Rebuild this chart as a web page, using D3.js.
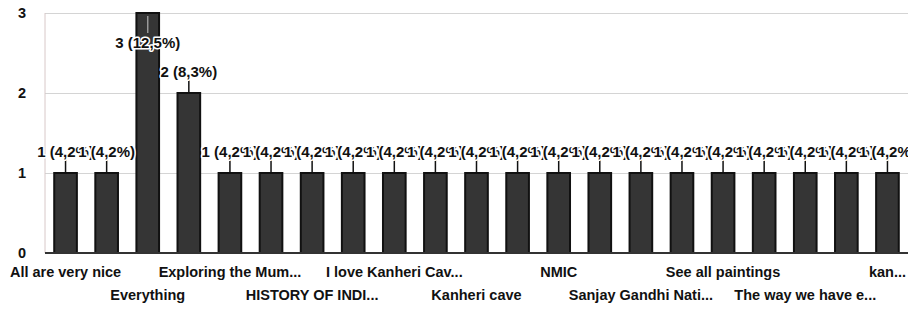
<!DOCTYPE html>
<html>
<head>
<meta charset="utf-8">
<script src="https://cdn.jsdelivr.net/npm/d3@7"></script>
<style>
  body { margin: 0; background: #fff; }
  text { font-family: "Liberation Sans", Arial, sans-serif; font-weight: bold; fill: #111; }
</style>
</head>
<body>
<script>
// answers, in the order the form lists them (hidden names are guesses)
var categories = [
  "All are very nice", "Art gallery", "Everything", "Exhibits",
  "Exploring the Mum...", "Gandhi gallery", "HISTORY OF INDI...", "History",
  "I love Kanheri Cav...", "Indian culture", "Kanheri cave", "Museum",
  "NMIC", "Nature", "Sanjay Gandhi Nati...", "Sculptures",
  "See all paintings", "The caves", "The way we have e...", "Wildlife",
  "kan..."
];
var counts = [1, 1, 3, 2, 1, 1, 1, 1, 1, 1, 1, 1, 1, 1, 1, 1, 1, 1, 1, 1, 1];
var y_ticks = [0, 1, 2, 3];

var width = 908, height = 310;
var plot_left = 45, plot_right = 908, plot_top = 13, plot_bottom = 253;
var total = d3.sum(counts);

var svg = d3.select("body").append("svg")
                           .attr("width", width)
                           .attr("height", height);

var x = d3.scaleBand()
          .domain(d3.range(categories.length))
          .range([plot_left, plot_right])
          .paddingInner(0.4)
          .paddingOuter(0.2);

var y = d3.scaleLinear().domain([0, 3]).range([plot_bottom, plot_top]);

// grid + y labels
var yAxis = svg.append("g")
               .attr("transform", "translate(" + plot_left + ",0)")
               .call(d3.axisLeft(y).tickValues(y_ticks).tickFormat(d3.format("d"))
                       .tickSize(-(plot_right - plot_left)).tickPadding(19));
yAxis.select(".domain").remove();
yAxis.selectAll(".tick line").attr("stroke", "#d4d4d4").attr("stroke-width", 1);
yAxis.selectAll(".tick text").style("font-size", "14.5px").attr("fill", "#111");

svg.append("line")
   .attr("x1", plot_left).attr("x2", plot_left)
   .attr("y1", plot_top).attr("y2", plot_bottom)
   .attr("stroke", "#d8c8c8");

// bars
svg.selectAll("rect.bar")
   .data(counts)
   .enter()
   .append("rect")
   .attr("class", "bar")
   .attr("x", function(d, i) { return x(i) + 1; })
   .attr("y", function(d) { return y(d); })
   .attr("width", x.bandwidth() - 2)
   .attr("height", function(d) { return plot_bottom - y(d); })
   .attr("fill", "#353535")
   .attr("stroke", "#111")
   .attr("stroke-width", 2);

// baseline
svg.append("line")
   .attr("x1", plot_left).attr("x2", plot_right)
   .attr("y1", plot_bottom).attr("y2", plot_bottom)
   .attr("stroke", "#333")
   .attr("stroke-width", 2);

// x labels, every other answer, on two staggered rows
var xAxis = svg.append("g")
               .attr("transform", "translate(0," + plot_bottom + ")")
               .call(d3.axisBottom(x).tickSize(0).tickFormat(function(i) { return categories[i]; }));
xAxis.select(".domain").remove();
xAxis.selectAll(".tick")
     .filter(function(i) { return i % 2 === 1; })
     .remove();
xAxis.selectAll(".tick text")
     .style("font-size", "14.5px")
     .attr("fill", "#111")
     .attr("dy", null)
     .attr("y", function(i) { return (i / 2) % 2 === 0 ? 24 : 47; });

// value annotations with leader lines
function pct(d) { return d3.format(".1f")(d / total * 100).replace(".", ","); }

counts.forEach(function(d, i) {
  var cx = x(i) + x.bandwidth() / 2;
  var inside = y(d) - 34 < 0;
  var g = svg.append("g");
  if (inside) {
    g.append("line")
     .attr("x1", cx).attr("x2", cx)
     .attr("y1", y(d) + 3).attr("y2", y(d) + 20)
     .attr("stroke", "#999").attr("stroke-width", 1.5);
  } else {
    g.append("line")
     .attr("x1", cx).attr("x2", cx)
     .attr("y1", y(d)).attr("y2", y(d) - 15)
     .attr("stroke", "#111").attr("stroke-width", 1.5);
  }
  g.append("text")
   .attr("x", cx)
   .attr("y", inside ? y(d) + 35 : y(d) - 16)
   .attr("text-anchor", "middle")
   .style("font-size", "15px")
   .attr("stroke", "#fff")
   .attr("stroke-width", 3)
   .attr("stroke-linejoin", "round")
   .attr("paint-order", "stroke")
   .text(d + " (" + pct(d) + "%)");
});
</script>
</body>
</html>
